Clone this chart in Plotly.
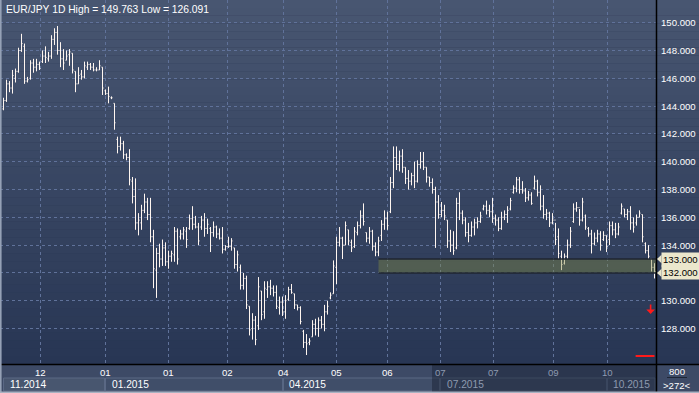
import plotly.graph_objects as go

# ---------------- data ----------------
title_text = "EUR/JPY 1D High = 149.763 Low = 126.091"

opens = [143.8,144.4,145.6,145.3,146.0,146.5,148.0,148.3,145.8,146.0,147.1,146.8,147.0,147.2,147.6,147.4,147.6,148.8,149.3,148.0,
         147.4,147.3,147.7,147.8,146.5,145.6,146.3,146.1,146.8,147.0,146.8,146.6,146.6,146.8,145.1,144.9,144.6,144.2,141.6,141.1,
         141.3,140.5,140.3,138.6,137.5,135.6,135.6,136.5,137.1,136.2,134.6,132.2,133.4,133.0,133.8,132.8,133.2,133.3,135.0,134.6,
         134.8,135.0,135.2,135.9,135.5,135.3,135.3,135.8,135.2,135.2,134.9,135.3,134.8,134.5,133.7,133.9,133.9,133.8,132.6,132.4,
         131.1,131.6,129.6,128.0,128.6,128.2,130.7,129.2,130.8,131.0,130.9,130.6,129.5,129.9,129.2,130.1,130.8,130.5,129.7,129.5,
         127.8,127.0,127.0,127.4,128.3,128.0,128.6,128.3,129.2,130.2,130.5,132.4,134.2,134.5,134.0,135.1,134.2,133.9,134.9,135.4,
         136.1,134.9,134.5,135.0,133.9,133.5,134.7,135.5,135.9,136.4,138.5,140.3,139.8,140.4,139.6,138.8,138.6,139.0,138.6,139.8,
         140.0,139.6,138.9,138.5,138.0,137.1,136.2,136.5,135.8,134.3,134.0,133.8,137.0,136.3,135.8,134.9,134.7,135.3,135.6,135.7,
         136.6,136.8,136.5,136.4,135.9,135.8,135.2,136.0,136.2,136.6,137.8,138.1,138.7,138.0,137.9,137.4,137.6,138.1,138.6,137.8,
         136.8,136.2,136.3,135.6,135.8,134.6,133.2,132.7,133.2,134.0,135.7,136.6,136.7,135.8,136.1,135.2,134.8,134.1,134.5,134.8,
         134.4,134.7,134.4,135.4,135.1,134.8,136.3,136.6,136.2,136.4,135.6,135.6,136.0,136.2,134.1,133.6,133.0,132.4]
highs = [144.6,145.9,145.8,146.6,146.7,148.2,149.2,148.5,146.1,147.3,147.4,147.4,147.2,148.0,148.3,147.9,149.1,149.6,149.763,148.6,
         148.1,148.0,148.1,147.8,146.5,146.8,146.6,147.2,147.2,147.1,147.1,146.8,147.3,146.8,145.2,145.4,144.7,144.2,141.8,141.8,
         141.5,140.6,140.9,138.9,138.8,136.3,136.9,137.7,137.4,137.4,135.1,133.8,134.1,134.4,134.2,133.6,133.6,135.3,135.2,135.1,
         135.3,135.3,136.2,136.8,136.1,135.6,136.1,136.3,135.9,135.3,135.7,135.4,135.2,135.3,134.0,134.6,134.5,133.8,133.6,132.6,
         132.0,131.8,129.6,129.1,128.9,131.7,130.7,131.4,131.4,131.5,131.1,131.1,130.3,130.3,130.4,131.0,131.2,130.5,129.7,129.6,
         127.9,127.6,127.3,128.6,128.7,128.8,128.9,129.7,130.0,130.6,132.9,134.6,135.3,134.6,135.7,135.1,134.4,135.3,135.7,136.5,
         137.0,134.9,135.3,135.1,134.2,134.6,135.8,136.5,136.4,138.9,141.1,141.1,140.8,140.9,139.6,139.4,139.2,140.0,140.1,140.7,
         140.7,139.6,138.9,138.8,138.2,137.6,137.1,136.9,135.8,135.1,135.0,137.4,137.8,136.5,136.0,135.6,135.7,135.9,136.0,136.4,
         136.9,137.2,136.9,137.4,136.2,136.0,136.4,136.5,136.8,137.4,138.3,138.9,138.9,138.6,138.1,137.9,137.8,139.0,138.7,138.3,
         137.6,136.6,136.4,136.3,135.6,135.2,133.6,133.4,134.4,135.3,137.0,137.1,136.6,137.4,136.2,135.3,135.1,134.9,135.1,135.0,
         135.0,134.7,135.7,135.7,135.6,135.6,137.0,136.6,136.6,136.8,136.0,136.2,136.5,136.2,134.2,134.0,133.0,132.7]
lows = [143.7,144.3,145.0,144.9,145.7,146.4,147.9,145.6,145.7,145.9,146.4,146.5,146.6,147.1,147.1,147.2,147.4,148.4,147.7,146.8,
        146.6,147.3,146.9,146.35,145.0,145.6,145.9,146.0,146.6,146.6,146.5,146.5,146.6,144.8,144.8,144.2,144.5,142.3,140.6,140.8,
        140.2,140.1,138.3,137.0,135.1,134.7,135.1,136.3,135.8,134.2,130.9,130.2,132.4,132.5,132.5,132.3,132.8,132.8,132.6,134.4,
        134.4,133.8,135.1,135.1,135.2,134.0,135.1,134.6,134.8,133.5,134.6,134.5,134.4,133.4,133.6,133.8,133.6,132.3,132.1,130.8,
        130.8,129.4,127.5,127.2,126.8,127.9,128.6,128.7,130.2,130.4,130.3,129.4,129.0,128.9,128.7,130.0,130.5,129.4,129.3,128.3,
        126.6,126.091,126.8,127.4,127.5,127.4,128.0,127.8,129.0,130.1,130.5,131.2,133.9,133.0,134.0,134.0,133.5,133.8,134.7,135.2,
        135.4,134.2,134.1,133.6,133.2,133.2,134.3,135.1,135.1,136.3,138.1,139.4,139.3,139.2,138.4,138.0,138.3,138.1,138.5,139.5,
        139.4,138.5,138.2,137.7,133.8,135.9,136.0,135.8,133.8,133.5,133.3,133.7,135.8,135.5,134.6,134.2,134.6,134.7,135.2,135.6,
        136.5,136.2,136.0,135.6,135.4,135.0,135.1,135.8,135.6,136.5,137.7,137.8,137.7,137.7,137.1,137.2,136.9,138.0,137.5,136.5,
        135.9,135.8,135.3,135.5,134.0,133.0,132.2,132.6,133.0,133.8,135.6,136.4,135.4,135.7,135.1,134.6,133.4,134.0,134.2,133.6,
        134.3,133.5,134.0,134.7,134.5,134.7,136.2,136.0,135.8,135.1,134.9,135.4,136.0,134.2,133.4,133.0,132.1,131.6]
closes = [144.4,145.6,145.3,146.2,146.5,148.0,148.5,145.8,145.9,147.1,146.8,147.0,146.7,147.6,147.5,147.6,148.8,149.3,148.0,147.4,
          147.1,147.6,147.9,146.6,145.6,146.2,146.1,146.9,147.0,146.8,146.6,146.6,146.9,145.3,144.9,144.7,144.6,142.8,141.1,141.3,
          140.5,140.3,138.7,137.5,135.6,135.8,136.5,137.1,136.2,134.6,132.3,133.4,133.0,133.8,132.8,133.2,133.4,135.0,133.0,134.8,
          135.1,134.4,135.9,135.5,135.3,134.3,135.8,135.2,135.5,134.9,135.3,134.8,134.5,133.7,133.9,133.9,134.3,132.6,133.3,131.1,
          131.6,129.7,127.9,128.6,127.2,131.0,129.0,130.9,131.0,130.9,130.6,129.6,129.9,129.2,130.0,130.8,130.6,129.7,129.5,128.5,
          127.0,126.9,127.1,128.3,128.0,128.6,128.3,129.2,129.6,130.4,132.5,134.2,134.5,134.0,135.4,134.3,133.8,135.0,135.4,136.1,
          135.7,134.5,135.0,133.9,133.5,134.3,135.5,135.9,135.4,138.5,140.3,139.8,140.4,139.6,138.8,138.6,139.0,138.6,139.8,140.0,
          139.6,138.9,138.5,138.0,137.1,136.2,136.5,136.1,134.3,134.0,133.6,137.0,136.3,135.8,134.9,134.7,135.3,135.6,135.7,136.1,
          136.8,136.5,136.4,135.9,135.8,135.2,136.0,136.2,136.5,137.2,138.1,138.7,138.0,137.9,137.4,137.6,137.0,138.6,137.8,136.8,
          136.2,136.3,135.6,135.8,134.4,133.4,132.6,133.2,134.0,135.0,136.6,136.7,135.8,137.1,135.3,134.8,134.1,134.5,134.8,134.0,
          134.7,133.9,135.4,135.1,134.8,135.3,136.8,136.2,136.4,135.6,135.3,136.0,136.3,134.6,133.6,133.2,132.4,132.1]
bar_index = list(range(len(opens)))

price_ticks = [150, 148, 146, 144, 142, 140, 138, 136, 134, 130, 128]
grid_ticks = [150, 148, 146, 144, 142, 140, 138, 136, 134, 132, 130, 128]
zone_low, zone_high = 132.0, 133.0
zone_start = 125
month_pos = [12.33, 34, 55, 74.67, 93.33, 111, 128, 145.67, 163.33, 183.33, 201.33]
month_labels = ["12", "01", "01", "02", "04", "05", "06", "07", "07", "09", "10"]
period_labels = ["11.2014", "01.2015", "04.2015", "07.2015", "10.2015"]
period_start = [0.0, 34, 93.33, 145.67, 201.33]
low_marker = 126.02
corner_top, corner_bottom = "800", ">272<"

# ---------------- layout geometry ----------------
W, H = 699, 393
PW, PH = 656, 364          # plot area in pixels
XR = [-1.1667, 217.5]
YR = [125.446, 151.633]
FONT = "Liberation Sans, Arial, sans-serif"
FS = 9.6

def px(p):      # pixel x -> paper
    return p / PW

def py(p):      # pixel y -> paper
    return (PH - p) / PH

def ix(i):      # data x -> pixel
    return (i - XR[0]) / (XR[1] - XR[0]) * PW

fig = go.Figure()
fig.add_trace(go.Ohlc(
    x=bar_index, open=opens, high=highs, low=lows, close=closes,
    increasing=dict(line=dict(color="#fff6f0", width=1)),
    decreasing=dict(line=dict(color="#fff6f0", width=1)),
    tickwidth=0.34, hoverinfo="skip", showlegend=False))

shapes = []
# gradient background (plot + right axis)
N = 46
top, bot = (72, 86, 113), (40, 54, 84)
for k in range(N):
    t = k / (N - 1)
    c = tuple(round(top[j] + (bot[j] - top[j]) * t) for j in range(3))
    shapes.append(dict(type="rect", xref="paper", yref="paper", layer="below",
                       x0=0, x1=px(W), y0=py(PH * (k + 1) / N), y1=py(PH * k / N),
                       fillcolor="rgb(%d,%d,%d)" % c, line=dict(width=0)))
# bottom band
shapes.append(dict(type="rect", xref="paper", yref="paper", layer="below",
                   x0=0, x1=px(W), y0=py(H), y1=py(PH), fillcolor="#3d4a66", line=dict(width=0)))
# period boxes row 2
bounds = [ix(v) for v in period_start] + [PW]
for k in range(len(period_labels)):
    x0 = max(bounds[k], 3)
    x1 = bounds[k + 1]
    shapes.append(dict(type="rect", xref="paper", yref="paper", layer="below",
                       x0=px(x0), x1=px(x1 - 1), y0=py(391), y1=py(378),
                       fillcolor="#48566f" if k == 0 else "#404e69",
                       line=dict(color="#5a6884", width=1)))
# dark overlay on future part of axis band
shapes.append(dict(type="rect", xref="paper", yref="paper", layer="above",
                   x0=px(432), x1=px(PW), y0=py(392), y1=py(PH),
                   fillcolor="rgba(22,30,48,0.45)", line=dict(width=0)))
# corner box separator line
shapes.append(dict(type="line", xref="paper", yref="paper", x0=px(667), x1=px(687),
                   y0=py(377.5), y1=py(377.5), line=dict(color="#1e2636", width=1)))
# zone rectangle
shapes.append(dict(type="rect", xref="x", yref="y", layer="above",
                   x0=zone_start, x1=XR[1], y0=zone_low, y1=zone_high,
                   fillcolor="rgba(128,138,70,0.42)", line=dict(width=0)))
for yv in (zone_low, zone_high):
    shapes.append(dict(type="line", xref="x", yref="y", layer="above",
                       x0=zone_start, x1=XR[1], y0=yv, y1=yv,
                       line=dict(color="#1f2630", width=1.5)))
# red marker line
shapes.append(dict(type="line", xref="x", yref="y", x0=210.7, x1=217.0,
                   y0=low_marker, y1=low_marker, line=dict(color="#ff1a1a", width=2)))
# frame lines
shapes.append(dict(type="line", xref="paper", yref="paper", x0=px(656.5), x1=px(656.5),
                   y0=py(H), y1=py(0), line=dict(color="#000000", width=1.5)))
shapes.append(dict(type="line", xref="paper", yref="paper", x0=0, x1=px(W),
                   y0=py(364.5), y1=py(364.5), line=dict(color="#000000", width=1.5)))
shapes.append(dict(type="line", xref="paper", yref="paper", x0=px(0.8), x1=px(0.8),
                   y0=py(H), y1=py(0), line=dict(color="#95a1b6", width=1.6)))
shapes.append(dict(type="line", xref="paper", yref="paper", x0=0, x1=px(W),
                   y0=py(392.2), y1=py(392.2), line=dict(color="#a9b2c2", width=1.6)))
# zone label pointers
for yv in (zone_low, zone_high):
    shapes.append(dict(type="path", xref="paper", yref="y", layer="above",
                       path="M %f,%f L %f,%f L %f,%f Z" % (px(657), yv, px(661.5), yv + 0.3, px(661.5), yv - 0.3),
                       fillcolor="#ebe7cc", line=dict(width=0)))

ann = []
ann.append(dict(text=title_text, xref="paper", yref="paper", x=px(4), y=py(1.5),
                xanchor="left", yanchor="top", showarrow=False,
                font=dict(family=FONT, size=10.3, color="#ffffff")))
for v in price_ticks:
    ann.append(dict(text="%.3f" % v, xref="paper", yref="y", x=px(659), y=v,
                    xanchor="left", yanchor="middle", showarrow=False,
                    font=dict(family=FONT, size=FS, color="#ffffff")))
for v in (zone_high, zone_low):
    ann.append(dict(text="%.3f" % v, xref="paper", yref="y", x=px(661), y=v,
                    xanchor="left", yanchor="middle", showarrow=False, bgcolor="#ebe7cc",
                    borderpad=1, font=dict(family=FONT, size=FS, color="#000000")))
for v, t in zip(month_pos, month_labels):
    future = ix(v) > 432
    ann.append(dict(text=t, xref="x", yref="paper", x=v, y=py(372.5),
                    xanchor="center", yanchor="middle", showarrow=False,
                    font=dict(family=FONT, size=FS, color="#8e9ab0" if future else "#ffffff")))
for v, t in zip(period_start, period_labels):
    future = ix(v) > 432
    ann.append(dict(text=t, xref="paper", yref="paper", x=px(max(ix(v), 3) + 4), y=py(384.5),
                    xanchor="left", yanchor="middle", showarrow=False,
                    font=dict(family=FONT, size=FS + 0.6, color="#8e9ab0" if future else "#ffffff")))
ann.append(dict(text=corner_top, xref="paper", yref="paper", x=px(677), y=py(371.5),
                xanchor="center", yanchor="middle", showarrow=False,
                font=dict(family=FONT, size=FS, color="#ffffff")))
ann.append(dict(text=corner_bottom, xref="paper", yref="paper", x=px(677), y=py(385.5),
                xanchor="center", yanchor="middle", showarrow=False,
                font=dict(family=FONT, size=FS, color="#ffffff")))
# red down arrow
ann.append(dict(text="", xref="x", yref="y", x=215.7, y=129.05, ax=0, ay=-11,
                showarrow=True, arrowhead=1, arrowsize=0.9, arrowwidth=1.6, arrowcolor="#ff1a1a"))

fig.update_layout(
    width=W, height=H, margin=dict(l=0, r=W - PW, t=0, b=H - PH),
    paper_bgcolor="#2c3955", plot_bgcolor="rgba(0,0,0,0)",
    shapes=shapes, annotations=ann, showlegend=False,
    xaxis=dict(range=XR, showticklabels=False, ticks="", zeroline=False,
               rangeslider=dict(visible=False), tickvals=month_pos,
               showgrid=True, gridcolor="#60729a", griddash="3px,3px", gridwidth=1, fixedrange=True),
    yaxis=dict(range=YR, side="right", showticklabels=False, ticks="", zeroline=False,
               tickvals=grid_ticks,
               showgrid=True, gridcolor="#60729a", griddash="3px,3px", gridwidth=1, fixedrange=True),
)
fig.write_html("out.html", config={"displayModeBar": False})
